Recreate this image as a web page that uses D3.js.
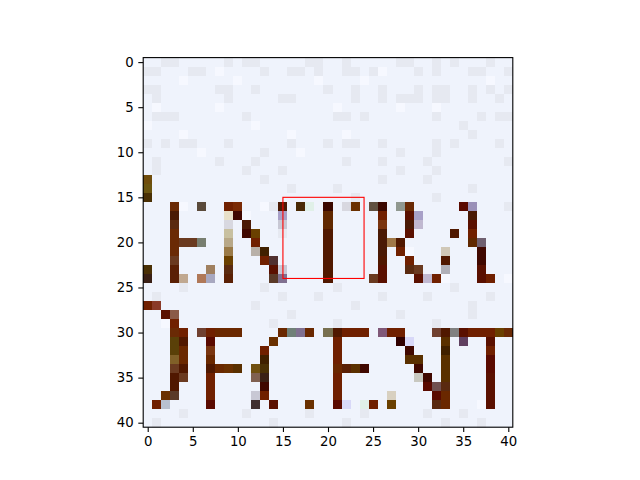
<!DOCTYPE html>
<html>
<head>
<meta charset="utf-8">
<script src="https://cdn.jsdelivr.net/npm/d3@7"></script>
<style>
  body { margin: 0; background: #fff; }
  svg { display: block; }
</style>
</head>
<body>
<svg id="chart" width="640" height="480"></svg>
<script>
// colour codes used in the pixel rows
const paletteColors = {
  ".": "#eff3fc", ",": "#e6e9f1", ":": "#f6f8ff",
  "a": "#6a2a05", "b": "#4a1a05", "c": "#5a1000", "d": "#702000", "e": "#3a0800",
  "9": "#602800", "8": "#400800", "U": "#5a2a10", "2": "#6a4000", "V": "#7a3510",
  "4": "#7a2a05", "5": "#4a2a05", "6": "#6a3000", "7": "#5a0a00", "*": "#501800",
  "&": "#5a3000", "%": "#6a2800", "+": "#402000", "=": "#5a2005", "~": "#3a2015",
  "-": "#503030", "0": "#6a3a20", "1": "#5a3a28", "3": "#4a3005",
  "f": "#704d0c", "g": "#6b5510", "h": "#5a4a3a", "i": "#e8e0c8", "j": "#c8c0a0",
  "k": "#b8a888", "l": "#9a7a48", "m": "#787e70", "n": "#b8b0a8", "o": "#a08060",
  "p": "#c0a890", "q": "#b07858", "r": "#a8a8c0", "s": "#a8a0c8", "t": "#c8c8d4",
  "u": "#8a3a28", "v": "#8a5a48", "w": "#5a4008", "x": "#806028", "y": "#705010",
  "z": "#806050", "A": "#403030", "B": "#b8c0d0", "C": "#708078", "D": "#807090",
  "E": "#787050", "F": "#805878", "G": "#d8d0c0", "H": "#704030", "I": "#808080",
  "J": "#604060", "K": "#300000", "L": "#d8d8f8", "M": "#c8c8c0", "N": "#705050",
  "O": "#909890", "P": "#9a90b8", "Q": "#706070", "R": "#d0c8b8", "S": "#b0b0b8",
  "T": "#c0b8d0", "W": "#a07848", "X": "#605040", "Y": "#e0f0e8", "Z": "#d8d8e0"
};

// 41 x 41 image, one string per row
const pixelRows = [
  "..,,.....," + ".,,.....,," + "..,.....,," + "..,.,...,." + ".",
  ",,...,,.:." + "...,..,,.," + "..,,.,:..." + ",.,...,,.." + ",",
  "....:....." + ":........:" + "....:....." + "........:." + ".",
  ",,......,," + "..,......." + ",..,..,..." + ",.,,..,.,." + ",",
  ".,.......," + ".....,,..." + "...,..,.,," + ",.,,..,..," + ".",
  ".:......:." + ".........." + ".:......:." + "..:......." + ".",
  ".,,,......" + ".,........" + ".,,.,....." + "..,....,.," + ",",
  ":........." + "..:......." + ".........." + ".....,...." + ".",
  "....:....." + "......:..." + "..:......." + "......,..." + ".",
  ",.,.,,...," + "......,..." + ",.,,..,..." + "..,.,....," + ".",
  "......:..." + "...,...:.." + "........,." + "..,......." + ".",
  ".,......,." + "..,......." + "..,...,..." + ".,........" + ",",
  ".,........" + ".,...,...." + "........,." + "..,......." + ".",
  "f........." + "...,......" + "......,..." + ".,........" + ".",
  "g........." + "......,..." + ".,........" + "......,..." + ".",
  "3........." + ".........." + "...,......" + "..,......." + ".",
  "...a:.h..d" + "4..:,b.5Y." + "e.Z6.Xe.Oa" + ".....7P..." + ",",
  "...b.....i" + "8:...s...." + "9.....d..c" + "s.....b..." + ".",
  "...U.....Z" + ".b...t...." + "9.....V..b" + "T.....c..." + ".",
  "...a.....j" + ".82..,...." + "*.....b..c" + "....*.d..." + ".",
  "...a00m..k" + "..d......." + "*.....bW*." + "......9Q.." + ".",
  "...a.....l" + "..n+......" + "*.....b.d:" + "...R...8.." + ".",
  "...0.....2" + "...d-....." + "*.....*..d" + "...*...8.." + ".",
  "3..=...o.U" + "....ct...." + "*.....c..U" + "0..S...c.." + ".",
  "~..=p.qr.=" + "....1D...." + "*....0c..." + "cTd:...cd." + ":",
  "....,....." + "...,......" + ".,........" + "....,....." + ".",
  ".,........" + ".....,...," + "......,..." + ".,......,." + ".",
  "du........" + "..,......." + "...,......" + "......,..." + ".",
  "..cv......" + "......,..." + "........,." + "......,..." + ".",
  "..:d......" + "....,....." + ".,........" + "..,......." + ".",
  "...ad.Hd%%" + "%....%CD%." + "E*ddd.Fdd." + "..H*Icddd2" + "a",
  "...w*..7.." + "....6....." + ".d......KL" + "...&.J..c." + ".",
  "...w%..V.." + "...d......" + ".d.......8" + "...+....d." + ".",
  "...x%..%.." + "...+......" + ".d.......&" + "&..&....7." + ".",
  "...0*..*%6" + "&.y3......" + ".%=&8....." + "8..&....7." + ".",
  "...*0..d.." + "..z~......" + ".d........" + "M8.&....c." + ".",
  "...*...d.." + "...8......" + ".d........" + ".7NU....c." + ".",
  "..61...d.." + "..td......" + ".d.....G.." + "..7%....c." + ".",
  ".dB....7.." + "..A.c...6." + ".7L.Yd.2.." + "..U%...:c." + ".",
  "....,....." + ".,......,." + "....,....." + ".,...,...." + ".",
  ".,........" + "....,....." + "..,......." + "...,...,.." + "."
];

const tickValues = [0, 5, 10, 15, 20, 25, 30, 35, 40];
const highlightBox = [15, 15, 24, 24]; // x0, y0, x1, y1 in pixel units

const svg = d3.select("#chart");
const plotLeft = 143.2, plotTop = 57.6, side = 369.6;
const n = pixelRows.length;

const x = d3.scaleLinear().domain([-0.5, n - 0.5]).range([plotLeft, plotLeft + side]);
const y = d3.scaleLinear().domain([-0.5, n - 0.5]).range([plotTop, plotTop + side]);

const cells = [];
pixelRows.forEach((row, r) => {
  row.split("").forEach((ch, c) => cells.push({ r, c, color: paletteColors[ch] || paletteColors["."] }));
});

// image cells
svg.append("g")
  .attr("shape-rendering", "crispEdges")
  .selectAll("rect")
  .data(cells)
  .join("rect")
  .attr("x", (d) => x(d.c - 0.5))
  .attr("y", (d) => y(d.r - 0.5))
  .attr("width", x(1) - x(0) + 0.3)
  .attr("height", y(1) - y(0) + 0.3)
  .attr("fill", (d) => d.color);

// red box
svg.append("rect")
  .attr("x", x(highlightBox[0]))
  .attr("y", y(highlightBox[1]))
  .attr("width", x(highlightBox[2]) - x(highlightBox[0]))
  .attr("height", y(highlightBox[3]) - y(highlightBox[1]))
  .attr("fill", "none")
  .attr("stroke", "red")
  .attr("stroke-width", 1.1);

// axes
const xAxis = svg.append("g")
  .attr("transform", `translate(0,${plotTop + side})`)
  .call(d3.axisBottom(x).tickValues(tickValues).tickSize(4.9).tickPadding(4.7).tickSizeOuter(0));
const yAxis = svg.append("g")
  .attr("transform", `translate(${plotLeft},0)`)
  .call(d3.axisLeft(y).tickValues(tickValues).tickSize(4.9).tickPadding(4.7).tickSizeOuter(0));

[xAxis, yAxis].forEach((g) => {
  g.select(".domain").remove();
  g.selectAll("line").attr("stroke", "#000").attr("stroke-width", 1.1);
  g.selectAll("text")
    .attr("fill", "#000")
    .style("font-family", "DejaVu Sans")
    .style("font-size", "13.3px");
});

// spines
svg.append("rect")
  .attr("x", plotLeft)
  .attr("y", plotTop)
  .attr("width", side)
  .attr("height", side)
  .attr("fill", "none")
  .attr("stroke", "#000")
  .attr("stroke-width", 1.1);
</script>
</body>
</html>
